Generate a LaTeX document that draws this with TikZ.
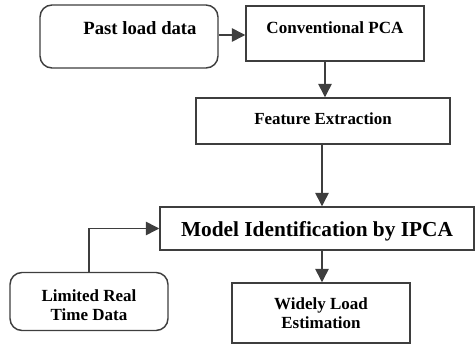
\documentclass[tikz,border=0pt]{standalone}
\usepackage{fontspec}
\setmainfont{Liberation Serif}
\usetikzlibrary{arrows.meta}

\definecolor{inkgray}{RGB}{62,62,62}

\tikzset{
  blockbox/.style={draw=inkgray, line width=1.1pt, rectangle, align=center, font=\bfseries, inner sep=0pt},
  roundbox/.style={blockbox, rounded corners=9pt},
  flowarrow/.style={draw=inkgray, line width=1.1pt, -{Triangle[length=10pt,width=10pt]}}
}

\begin{document}
\begin{tikzpicture}[x=0.75pt,y=0.75pt,yscale=-1,xscale=1]
%set diagram left start at 0, and has height of 346
\useasboundingbox (0,0) rectangle (476,346);

%Rounded Rect [id:past]
\node[roundbox, minimum width=133.5pt, minimum height=47.25pt, font=\bfseries\fontsize{14}{17}\selectfont] (pastload) at (129,36.5) {\hspace*{16.5pt}Past load data\\[-5pt] \mbox{}};
%Shape: Rectangle [id:conv]
\node[blockbox, minimum width=133.5pt, minimum height=41.25pt, font=\bfseries\fontsize{12.8}{15}\selectfont] (convpca) at (335,33.5) {Conventional PCA\\[-6pt] \mbox{}};
%Shape: Rectangle [id:feat]
\node[blockbox, minimum width=190.5pt, minimum height=34.5pt, font=\bfseries\fontsize{12.7}{15}\selectfont] (featext) at (323,121) {Feature Extraction\\[-12pt] \mbox{}};
%Shape: Rectangle [id:model]
\node[blockbox, minimum width=235.5pt, minimum height=32.25pt, font=\bfseries\fontsize{16}{20}\selectfont] (modelid) at (317,228.5) {\mbox{}\\[-5pt]Model Identification by IPCA};
%Rounded Rect [id:limited]
\node[roundbox, minimum width=118.5pt, minimum height=43.5pt, font=\bfseries\fontsize{12.75}{14.5}\selectfont] (limreal) at (89,301.5) {\mbox{}\\[0pt]Limited Real\\Time Data};
%Shape: Rectangle [id:widely]
\node[blockbox, minimum width=133.5pt, minimum height=45pt, font=\bfseries\fontsize{12.75}{14.5}\selectfont] (widelyest) at (321,313) {Widely Load\\Estimation};

%Straight Lines [id:arrows]
\draw[flowarrow] (pastload.east |- 0,35) -- (convpca.west |- 0,35);
\draw[flowarrow] (convpca.south -| 325,0) -- (featext.north -| 325,0);
\draw[flowarrow] (featext.south -| 322,0) -- (modelid.north -| 322,0);
\draw[flowarrow] (modelid.south -| 322,0) -- (widelyest.north -| 322,0);
\draw[flowarrow] (limreal.north) |- (modelid.west);

\end{tikzpicture}
\end{document}
